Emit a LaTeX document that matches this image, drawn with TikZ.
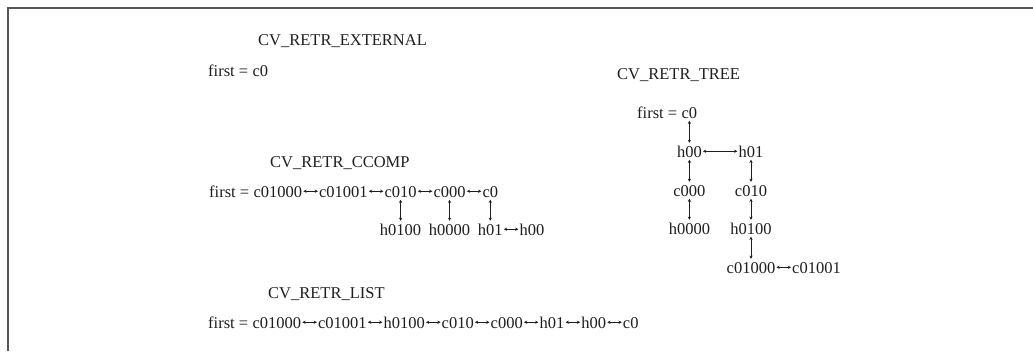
\documentclass[tikz,border=0pt]{standalone}
\usepackage{fontspec}
\setmainfont{Liberation Serif}
\usetikzlibrary{arrows.meta,positioning}
\definecolor{ink}{HTML}{1E1E1E}
\definecolor{frame}{HTML}{555555}
\begin{document}
\begin{tikzpicture}[x=1pt,y=-1pt,
  t/.style={font=\fontsize{16.5}{18}\selectfont, text=ink, inner xsep=1pt, inner ysep=2.5pt,
            text height=11.5pt, text depth=0pt, anchor=base west},
  tc/.style={t, anchor=base},
  arr/.style={draw=ink, line width=0.55pt,
     {Stealth[length=3.2pt,width=3.2pt]}-{Stealth[length=3.2pt,width=3.2pt]}},
  gap/.style={base right=14.5pt of #1},
  sp/.style={base right=2pt of #1}]
\useasboundingbox (0,0) rectangle (1033,351);
% frame
\draw[frame, line width=2.2pt] (7.8,351) -- (7.8,7.8) -- (1033,7.8);

% ---- CV_RETR_EXTERNAL
\node[t] (ext) at (257,45) {CV\_RETR\_EXTERNAL};
\node[t] (ef) at (207,76) {first =};
\node[t, sp=ef] (ec0) {c0};

% ---- CV_RETR_CCOMP
\node[t] (cc) at (269,167) {CV\_RETR\_CCOMP};
\node[t] (cf) at (208,197) {first =};
\node[t, sp=cf] (cA) {c01000};
\node[t, gap=cA] (cB) {c01001};
\node[t, gap=cB] (cC) {c010};
\node[t, gap=cC] (cD) {c000};
\node[t, gap=cD] (cE) {c0};
\node[tc] (hA) at (cC.base |- 0,235) {h0100};
\node[tc] (hB) at (cD.base |- 0,235) {h0000};
\node[tc] (hC) at (cE.base |- 0,235) {h01};
\node[t, gap=hC] (hD) {h00};
\draw[arr] (cA) -- (cB);
\draw[arr] (cB) -- (cC);
\draw[arr] (cC) -- (cD);
\draw[arr] (cD) -- (cE);
\draw[arr] (hC) -- (hD);
\draw[arr] (hA.north) -- (hA.north |- cC.south);
\draw[arr] (hB.north) -- (hB.north |- cD.south);
\draw[arr] (hC.north) -- (hC.north |- cE.south);

% ---- CV_RETR_LIST
\node[t] (li) at (267,298) {CV\_RETR\_LIST};
\node[t] (lf) at (207,328) {first =};
\node[t, sp=lf] (l1) {c01000};
\node[t, gap=l1] (l2) {c01001};
\node[t, gap=l2] (l3) {h0100};
\node[t, gap=l3] (l4) {c010};
\node[t, gap=l4] (l5) {c000};
\node[t, gap=l5] (l6) {h01};
\node[t, gap=l6] (l7) {h00};
\node[t, gap=l7] (l8) {c0};
\draw[arr] (l1) -- (l2);
\draw[arr] (l2) -- (l3);
\draw[arr] (l3) -- (l4);
\draw[arr] (l4) -- (l5);
\draw[arr] (l5) -- (l6);
\draw[arr] (l6) -- (l7);
\draw[arr] (l7) -- (l8);

% ---- CV_RETR_TREE
\node[t] (tr) at (616,79) {CV\_RETR\_TREE};
\node[t] (tf) at (636,118) {first =};
\node[t, sp=tf] (tc0) {c0};
\node[tc] (th00) at (tc0.base |- 0,157) {h00};
\node[tc] (th01) at (751,157) {h01};
\node[tc] (tc000) at (th00.base |- 0,196) {c000};
\node[tc] (tc010) at (th01.base |- 0,196) {c010};
\node[tc] (th0000) at (th00.base |- 0,234) {h0000};
\node[tc] (th0100) at (th01.base |- 0,234) {h0100};
\node[tc] (tc01000) at (th01.base |- 0,273) {c01000};
\node[t, gap=tc01000] (tc01001) {c01001};
\draw[arr] (tc0) -- (th00);
\draw[arr] (th00) -- (th01);
\draw[arr] (th00) -- (tc000);
\draw[arr] (th01) -- (tc010);
\draw[arr] (tc000) -- (th0000);
\draw[arr] (tc010) -- (th0100);
\draw[arr] (th0100) -- (tc01000);
\draw[arr] (tc01000) -- (tc01001);
\end{tikzpicture}
\end{document}
